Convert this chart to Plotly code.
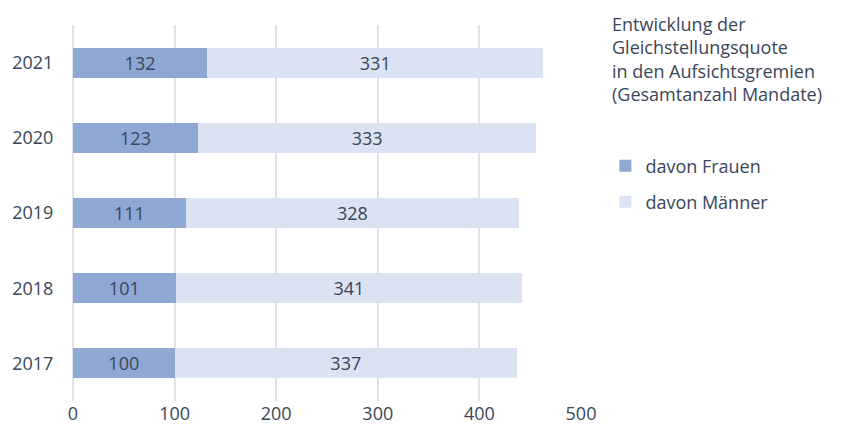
import plotly.graph_objects as go

years = ["2017", "2018", "2019", "2020", "2021"]
frauen = [100, 101, 111, 123, 132]
maenner = [337, 341, 328, 333, 331]
x_ticks = [0, 100, 200, 300, 400, 500]

title_lines = [
    "Entwicklung der",
    "Gleichstellungsquote",
    "in den Aufsichtsgremien",
    "(Gesamtanzahl Mandate)",
]

FONT = "Open Sans"
TEXT = "#3a4659"
C_F = "#8fa8d3"
C_M = "#dbe2f1"
GRID = "#dee2ea"
SIZE = 18

fig = go.Figure()
fig.add_trace(go.Bar(
    y=years, x=frauen, orientation="h", name="davon Frauen",
    marker=dict(color=C_F, line=dict(width=0)),
    text=[str(v) for v in frauen], textposition="inside",
    insidetextanchor="middle", textangle=0,
    textfont=dict(family=FONT, size=SIZE, color=TEXT),
    legend="legend",
))
fig.add_trace(go.Bar(
    y=years, x=maenner, orientation="h", name="davon Männer",
    marker=dict(color=C_M, line=dict(width=0)),
    text=[str(v) for v in maenner], textposition="inside",
    insidetextanchor="middle", textangle=0,
    textfont=dict(family=FONT, size=SIZE, color=TEXT),
    legend="legend2",
))

fig.add_annotation(
    xref="paper", yref="paper", x=1.057, y=1.04,
    xanchor="left", yanchor="top", align="left", showarrow=False,
    text="<br>".join(title_lines),
    font=dict(family=FONT, size=SIZE, color=TEXT),
)

legend_style = dict(
    font=dict(family=FONT, size=SIZE, color=TEXT),
    bgcolor="rgba(0,0,0,0)", xanchor="left", yanchor="middle",
    itemwidth=30,
)

fig.update_layout(
    width=854, height=431,
    margin=dict(l=73, r=273, t=25, b=30, autoexpand=False),
    paper_bgcolor="white", plot_bgcolor="white",
    barmode="stack", bargap=0.6,
    font=dict(family=FONT, size=SIZE, color=TEXT),
    showlegend=True,
    legend=dict(x=1.048, y=0.625, **legend_style),
    legend2=dict(x=1.048, y=0.529, **legend_style),
    xaxis=dict(
        range=[0, 500], tickvals=x_ticks, showgrid=True, gridcolor=GRID,
        gridwidth=1.5, zeroline=True, zerolinecolor=GRID, zerolinewidth=1.5,
        ticks="", tickfont=dict(family=FONT, size=SIZE, color=TEXT),
        showline=False, automargin=False,
    ),
    yaxis=dict(
        range=[-0.5, 4.5], showgrid=False, ticks="outside", ticklen=15,
        tickcolor="rgba(0,0,0,0)",
        tickfont=dict(family=FONT, size=SIZE, color=TEXT), showline=False,
        automargin=False,
    ),
)

fig.write_html("out.html")
